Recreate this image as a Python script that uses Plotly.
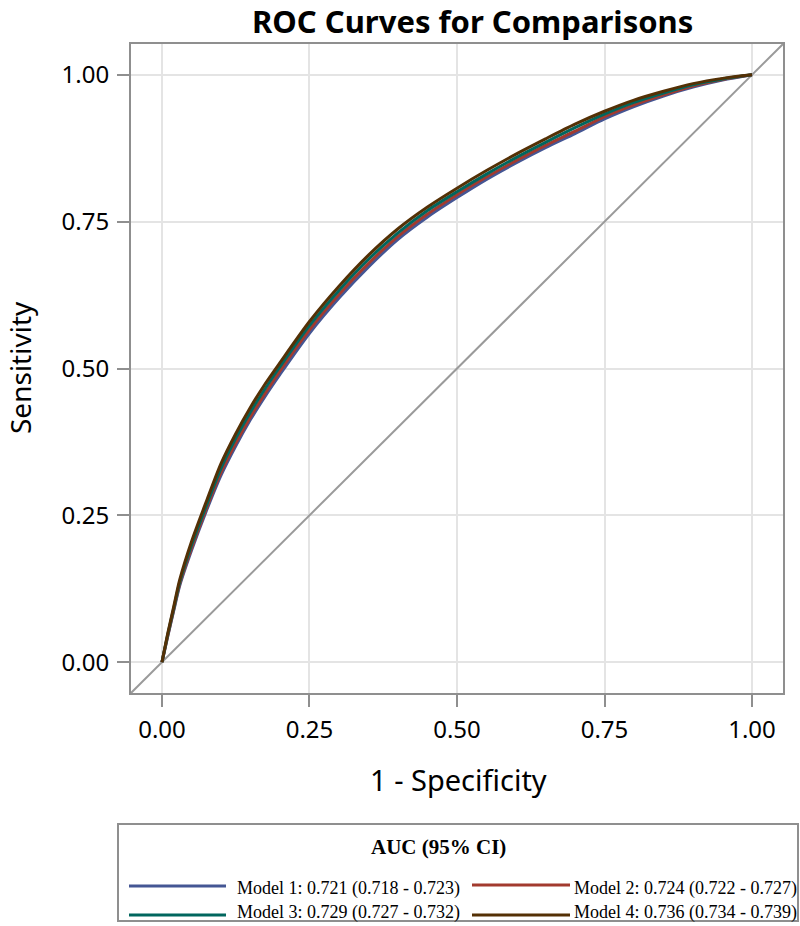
import plotly.graph_objects as go

# ---- data ----
fpr = [0, 0.01, 0.02, 0.03, 0.05, 0.075, 0.10, 0.125, 0.15, 0.175, 0.20, 0.25, 0.30,
       0.35, 0.40, 0.45, 0.50, 0.55, 0.60, 0.65, 0.70, 0.75, 0.80, 0.85, 0.90, 0.95, 1.0]
tpr_model1 = [0, 0.045, 0.088, 0.13, 0.19, 0.257, 0.318, 0.368, 0.413, 0.453, 0.49, 0.56, 0.62,
              0.673, 0.72, 0.758, 0.791, 0.822, 0.850, 0.876, 0.900, 0.925, 0.946, 0.964, 0.979, 0.991, 1.0]
tpr_model2 = [0, 0.046, 0.09, 0.133, 0.194, 0.261, 0.323, 0.373, 0.418, 0.458, 0.496, 0.566, 0.626,
              0.679, 0.725, 0.763, 0.796, 0.826, 0.854, 0.880, 0.904, 0.929, 0.949, 0.966, 0.981, 0.992, 1.0]
tpr_model3 = [0, 0.048, 0.092, 0.136, 0.199, 0.266, 0.330, 0.381, 0.426, 0.466, 0.503, 0.573, 0.633,
              0.686, 0.731, 0.769, 0.801, 0.831, 0.859, 0.885, 0.910, 0.933, 0.953, 0.969, 0.983, 0.993, 1.0]
tpr_model4 = [0, 0.05, 0.095, 0.14, 0.205, 0.273, 0.338, 0.389, 0.434, 0.474, 0.51, 0.58, 0.64,
              0.693, 0.738, 0.775, 0.807, 0.837, 0.865, 0.891, 0.916, 0.938, 0.957, 0.972, 0.985, 0.994, 1.0]
model_labels = ["Model 1: 0.721 (0.718 - 0.723)", "Model 2: 0.724 (0.722 - 0.727)",
                "Model 3: 0.729 (0.727 - 0.732)", "Model 4: 0.736 (0.734 - 0.739)"]
colors = ["#445694", "#A23A2E", "#01665E", "#543005"]
tick_vals = [0, 0.25, 0.5, 0.75, 1.0]
tick_text = ["0.00", "0.25", "0.50", "0.75", "1.00"]
axis_range = [-0.0525, 1.0525]

W, H = 800, 926
PL, PR, PT, PB = 131, 783, 44, 693


def px(x):
    return (x - PL) / (PR - PL)


def py(y):
    return (PB - y) / (PB - PT)


fig = go.Figure()

# reference diagonal
fig.add_trace(go.Scatter(x=axis_range, y=axis_range, mode="lines",
                         line=dict(color="#9a9a9a", width=2), showlegend=False, hoverinfo="skip"))

series = [tpr_model1, tpr_model2, tpr_model3, tpr_model4]
for tpr, lab, col in zip(series, model_labels, colors):
    fig.add_trace(go.Scatter(x=fpr, y=tpr, mode="lines", name=lab,
                             line=dict(color=col, width=3, shape="spline", smoothing=0.8),
                             showlegend=False))

font_main = "Noto Sans"
axis_common = dict(range=axis_range, tickvals=tick_vals, ticktext=tick_text,
                   showgrid=True, gridcolor="#e4e4e4", gridwidth=2, zeroline=False,
                   showline=True, linecolor="#8f8f8f", linewidth=2, mirror=True,
                   ticks="outside", ticklen=12, tickwidth=2, tickcolor="#8f8f8f",
                   tickfont=dict(family=font_main, size=24, color="#000000"))
fig.update_xaxes(**axis_common, ticklabelstandoff=2)
fig.update_yaxes(**axis_common, ticklabelstandoff=3)

annotations = [
    dict(text="<b>ROC Curves for Comparisons</b>", x=px(472), y=py(21), xref="paper", yref="paper",
         showarrow=False, xanchor="center", yanchor="middle",
         font=dict(family=font_main, size=31, color="#000000")),
    dict(text="1 - Specificity", x=px(458), y=py(779), xref="paper", yref="paper",
         showarrow=False, xanchor="center", yanchor="middle",
         font=dict(family=font_main, size=29, color="#000000")),
    dict(text="Sensitivity", x=px(20), y=py(368), xref="paper", yref="paper", textangle=-90,
         showarrow=False, xanchor="center", yanchor="middle",
         font=dict(family=font_main, size=28, color="#000000")),
    dict(text="<b>AUC (95% CI)</b>", x=px(438), y=py(847), xref="paper", yref="paper",
         showarrow=False, xanchor="center", yanchor="middle",
         font=dict(family="Liberation Serif", size=21, color="#000000")),
]

shapes = [
    dict(type="rect", xref="paper", yref="paper", x0=px(118), x1=px(798), y0=py(824), y1=py(921),
         line=dict(color="#8f8f8f", width=2), fillcolor="rgba(0,0,0,0)"),
]

# legend entries (2 columns x 2 rows)
entry_pos = [
    (129, 226, 886, 235, 888),   # line x0, x1, line y, text x, text y
    (472, 570, 885, 572, 888),
    (129, 226, 915, 235, 912),
    (472, 570, 915, 572, 912),
]
for (lx0, lx1, ly, tx, ty), lab, col in zip(entry_pos, model_labels, colors):
    shapes.append(dict(type="line", xref="paper", yref="paper", x0=px(lx0), x1=px(lx1),
                       y0=py(ly), y1=py(ly), line=dict(color=col, width=3)))
    annotations.append(dict(text=lab, x=px(tx), y=py(ty), xref="paper", yref="paper",
                            showarrow=False, xanchor="left", yanchor="middle",
                            font=dict(family="Liberation Serif", size=18, color="#000000")))

fig.update_layout(width=W, height=H, margin=dict(l=PL, r=W - PR, t=PT, b=H - PB),
                  plot_bgcolor="#ffffff", paper_bgcolor="#ffffff",
                  showlegend=False, annotations=annotations, shapes=shapes)

fig.write_html("out.html", config={"displayModeBar": False},
               post_script="document.body.style.margin='0';")
